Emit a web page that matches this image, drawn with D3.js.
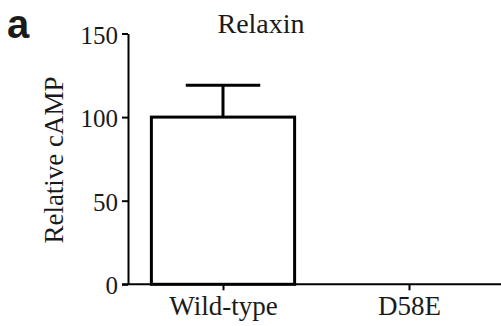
<!DOCTYPE html>
<html><head><meta charset="utf-8">
<script src="https://cdn.jsdelivr.net/npm/d3@7"></script>
<style>
html,body{margin:0;padding:0;background:#fff;}
svg{display:block;}
text{font-family:"Liberation Serif","Times New Roman",serif;fill:#1a1a1a;}
</style></head>
<body>
<svg id="chart" width="501" height="326"></svg>
<script>
const categories = ["Wild-type", "D58E"];
const values = [100, 0];
const errors = [19, 0];
const yTicks = [0, 50, 100, 150];
const title = "Relaxin";
const yLabel = "Relative cAMP";
const panelLabel = "a";

const svg = d3.select("#chart");
const x = d3.scalePoint().domain(categories).range([130, 502]).padding(0.5);
const y = d3.scaleLinear().domain([0, 150]).range([284.3, 33.5]);
const barW = x.step() * 0.77;

// bars
categories.forEach((c, i) => {
  if (values[i] <= 0) return;
  svg.append("rect")
    .attr("x", x(c) - barW / 2)
    .attr("y", y(values[i]))
    .attr("width", barW)
    .attr("height", y(0) - y(values[i]))
    .attr("fill", "#fff")
    .attr("stroke", "#000")
    .attr("stroke-width", 3);
  if (errors[i] > 0) {
    const capW = barW * 0.52;
    svg.append("line")
      .attr("x1", x(c)).attr("x2", x(c))
      .attr("y1", y(values[i])).attr("y2", y(values[i] + errors[i]))
      .attr("stroke", "#000").attr("stroke-width", 3);
    svg.append("line")
      .attr("x1", x(c) - capW / 2).attr("x2", x(c) + capW / 2)
      .attr("y1", y(values[i] + errors[i])).attr("y2", y(values[i] + errors[i]))
      .attr("stroke", "#000").attr("stroke-width", 3);
  }
});

// y axis
const yAxis = svg.append("g").attr("transform", "translate(128,0)")
  .call(d3.axisLeft(y).tickValues(yTicks).tickSize(6).tickSizeOuter(0).tickPadding(4));
yAxis.select(".domain").attr("stroke", "#000").attr("stroke-width", 2);
yAxis.selectAll(".tick line").attr("stroke", "#000").attr("stroke-width", 2);
yAxis.selectAll(".tick text").style("font-size", "25px").style("font-family", "Liberation Serif").attr("fill", "#1a1a1a").attr("dy", "0.38em");

// x axis
const xAxis = svg.append("g").attr("transform", "translate(0,284.3)")
  .call(d3.axisBottom(x).tickSize(6).tickSizeOuter(0).tickPadding(6));
xAxis.select(".domain").remove();
xAxis.selectAll(".tick line").attr("stroke", "#000").attr("stroke-width", 2);
xAxis.selectAll(".tick text").style("font-size", "27px").style("font-family", "Liberation Serif").attr("fill", "#1a1a1a");
svg.append("line").attr("x1", 122).attr("x2", 501).attr("y1", 284.3).attr("y2", 284.3)
  .attr("stroke", "#000").attr("stroke-width", 2);

// title
svg.append("text").attr("x", 261).attr("y", 33).attr("text-anchor", "middle")
  .style("font-size", "28px").text(title);

// y label
svg.append("text").attr("transform", "translate(63,160) rotate(-90)")
  .attr("text-anchor", "middle").style("font-size", "27px").text(yLabel);

// panel label
svg.append("text").attr("x", 7).attr("y", 38)
  .style("font-family", "Liberation Sans, Arial, sans-serif").style("font-weight", "bold")
  .style("font-size", "40px").attr("fill", "#000").text(panelLabel);
</script>
</body></html>
